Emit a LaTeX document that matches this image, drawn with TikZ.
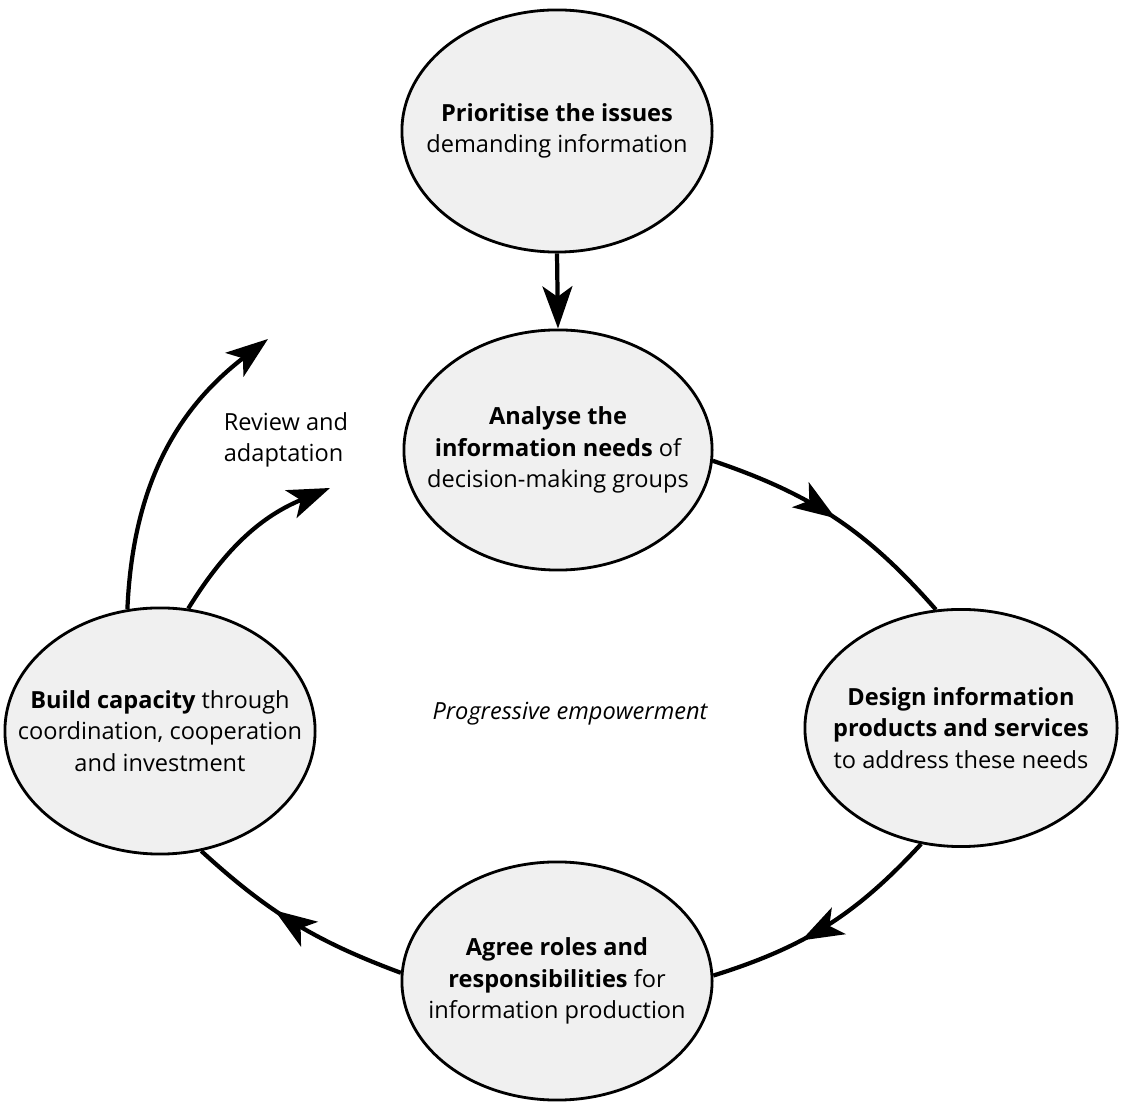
\documentclass[tikz,border=0pt]{standalone}
\usepackage{fontspec}
\setmainfont{Open Sans}
\usetikzlibrary{shapes.geometric,arrows.meta,decorations.markings}

\tikzset{
  stagebox/.style={ellipse, draw, line width=0.8pt, fill=black!6,
    minimum width=3.1cm, minimum height=2.4cm, inner sep=-1.5cm,
    align=center, font=\fontsize{6.7}{9}\selectfont},
  flow/.style={line width=1.2pt},
  headarrow/.style={-{Stealth[length=12pt,width=8.5pt,inset=3pt]}},
  midarrow/.style={postaction={decorate}, decoration={markings,
    mark=at position #1 with {\arrow{Stealth[length=12pt,width=8.5pt,inset=3pt]}}}},
}

\begin{document}
\begin{tikzpicture}[x=0.01cm, y=0.01cm]
                \useasboundingbox (0,0) rectangle (1121,-1104);
                % stages
                \node[stagebox, minimum height=2.42cm] (prio) at (557,-131) {\textbf{Prioritise the issues}\\demanding information};
                \node[stagebox, minimum width=3.08cm] (analyse) at (558,-450) {\textbf{Analyse the}\\\textbf{information needs} of\\decision-making groups};
                \node[stagebox, minimum width=3.12cm, minimum height=2.37cm] (design) at (961,-728) {\textbf{Design information}\\\textbf{products and services}\\to address these needs};
                \node[stagebox, minimum height=2.38cm] (agree) at (557,-981) {\textbf{Agree roles and}\\\textbf{responsibilities} for\\information production};
                \node[stagebox, minimum height=2.46cm] (build) at (160,-731) {\textbf{Build capacity} through\\coordination, cooperation\\and investment};
                % labels
                \node[align=left, font=\fontsize{6.7}{9}\selectfont] (review) at (286,-440) {Review and\\adaptation};
                \node[font=\fontsize{6.7}{9}\selectfont\itshape] (prog) at (570,-714) {Progressive empowerment};
                \coordinate (outerend) at (268,-339);
                \coordinate (innerend) at (330,-488);
                % connectors
                \draw[flow, headarrow] (prio.south) -- (analyse.north);
                \draw[flow, midarrow=0.5] (analyse.-4) to[bend left=15] (design.102);
                \draw[flow, midarrow=0.62] (design.251) to[bend left=15] (agree.2);
                \draw[flow, midarrow=0.6] (agree.177) to[bend left=11] (build.289);
                \draw[flow, headarrow] (build.105) to[bend left=25] (outerend);
                \draw[flow, headarrow] (build.77) to[bend left=18] (innerend);
\end{tikzpicture}
\end{document}
